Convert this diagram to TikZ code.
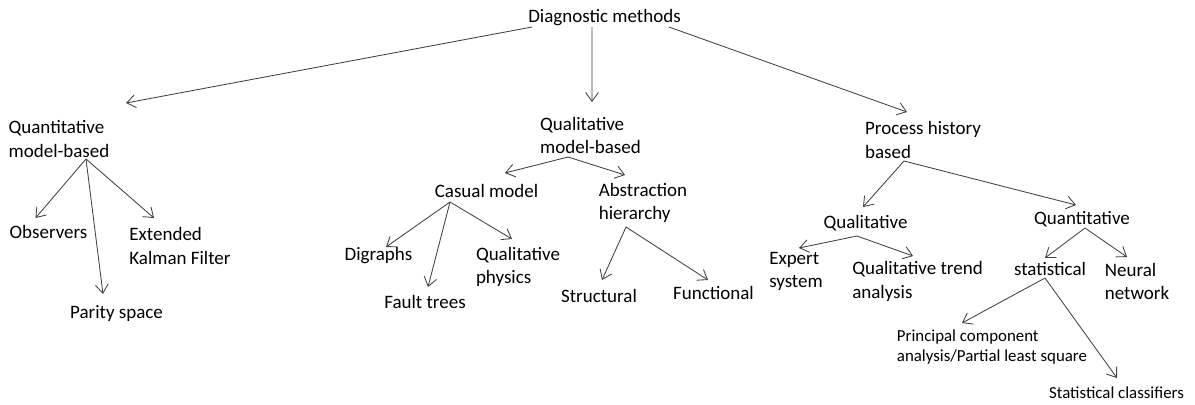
\documentclass[tikz,border=0pt]{standalone}
\usepackage{fontspec}
\setmainfont{Carlito}
\usetikzlibrary{calc, arrows.meta, positioning}

\begin{document}
\begin{tikzpicture}[x=0.025cm, y=-0.025cm,
        lbl/.style={inner sep=0pt, align=left, font=\fontsize{13.5}{16.7}\selectfont},
        small/.style={inner sep=0pt, align=left, font=\fontsize{12}{14.2}\selectfont},
        arr/.style={draw=black!75, line width=0.6pt, -{Straight Barb[length=2.2mm, width=3.2mm]}}]
           \useasboundingbox (0,0) rectangle (1195,404);

           \node[lbl] (diag) at (604.5, 18){Diagnostic methods};

           \node[lbl] (qnmb) at (59, 139){Quantitative\\model-based};
           \node[lbl] (qlmb) at (590.5, 135.5){Qualitative\\model-based};
           \node[lbl] (phb) at (923, 140){Process history\\based};

           \node[lbl] (obs) at (48.5, 232){Observers};
           \node[lbl] (ekf) at (180, 246){Extended\\Kalman Filter};
           \node[lbl] (parity) at (116.5, 313){Parity space};

           \node[lbl] (casual) at (486.5, 191){Casual model};
           \node[lbl] (abst) at (643, 203){Abstraction\\hierarchy};
           \node[lbl] (digraphs) at (378.5, 256){Digraphs};
           \node[lbl] (fault) at (425, 302){Fault trees};
           \node[lbl] (qphys) at (518, 267){Qualitative\\physics};
           \node[lbl] (struct) at (599, 296){Structural};
           \node[lbl] (func) at (713.5, 293){Functional};

           \node[lbl] (qual) at (865.5, 223){Qualitative};
           \node[lbl] (quant) at (1082, 219){Quantitative};
           \node[lbl] (expert) at (796, 271.5){Expert\\system};
           \node[lbl] (qta) at (917.5, 281.5){Qualitative trend\\analysis};
           \node[lbl] (stat) at (1050, 268.5){statistical};
           \node[lbl] (neural) at (1137, 281.5){Neural\\network};
           \node[small] (pca) at (992, 347){Principal component\\analysis/Partial least square};
           \node[small] (statcl) at (1116.5, 393){Statistical classifiers};

           \draw[arr] ($(diag) + (-72.5, 9)$) -- ($(qnmb) + (67, -36)$);
           \draw[arr] ($(diag) + (-12.5, 9)$) -- ($(qlmb) + (1.5, -33.5)$);
           \draw[arr] ($(diag) + (64.5, 9)$) -- ($(phb) + (-16, -28)$);

           \draw[arr] ($(qnmb) + (27, 20)$) -- ($(obs) + (-13, -14)$);
           \draw[arr] ($(qnmb) + (27, 20)$) -- ($(parity) + (-13.5, -19)$);
           \draw[arr] ($(qnmb) + (27, 20)$) -- ($(ekf) + (-26, -28)$);

           \draw[arr] ($(qlmb) + (-22.5, 21.5)$) -- ($(casual) + (18.5, -18)$);
           \draw[arr] ($(qlmb) + (-22.5, 21.5)$) -- ($(abst) + (-18, -28)$);

           \draw[arr] ($(casual) + (-36.5, 11)$) -- ($(digraphs) + (7.5, -9)$);
           \draw[arr] ($(casual) + (-36.5, 11)$) -- ($(fault) + (3, -15)$);
           \draw[arr] ($(casual) + (-36.5, 11)$) -- ($(qphys) + (-6, -28)$);

           \draw[arr] ($(abst) + (-17, 24)$) -- ($(struct) + (3, -16)$);
           \draw[arr] ($(abst) + (-17, 24)$) -- ($(func) + (-5.5, -13)$);

           \draw[arr] ($(phb) + (-19, 21)$) -- ($(qual) + (-2.5, -16)$);
           \draw[arr] ($(phb) + (-19, 21)$) -- ($(quant) + (-6, -14)$);

           \draw[arr] ($(qual) + (-8.5, 13)$) -- ($(expert) + (3, -23.5)$);
           \draw[arr] ($(qual) + (-8.5, 13)$) -- ($(qta) + (-4.5, -25.5)$);

           \draw[arr] ($(quant) + (3, 9)$) -- ($(stat) + (-5, -10.5)$);
           \draw[arr] ($(quant) + (3, 9)$) -- ($(neural) + (-10, -24.5)$);

           \draw[arr] ($(stat) + (-5, 9.5)$) -- ($(pca) + (-30, -24)$);
           \draw[arr] ($(stat) + (-5, 9.5)$) -- ($(statcl) + (0.5, -15)$);
       \end{tikzpicture}
\end{document}
